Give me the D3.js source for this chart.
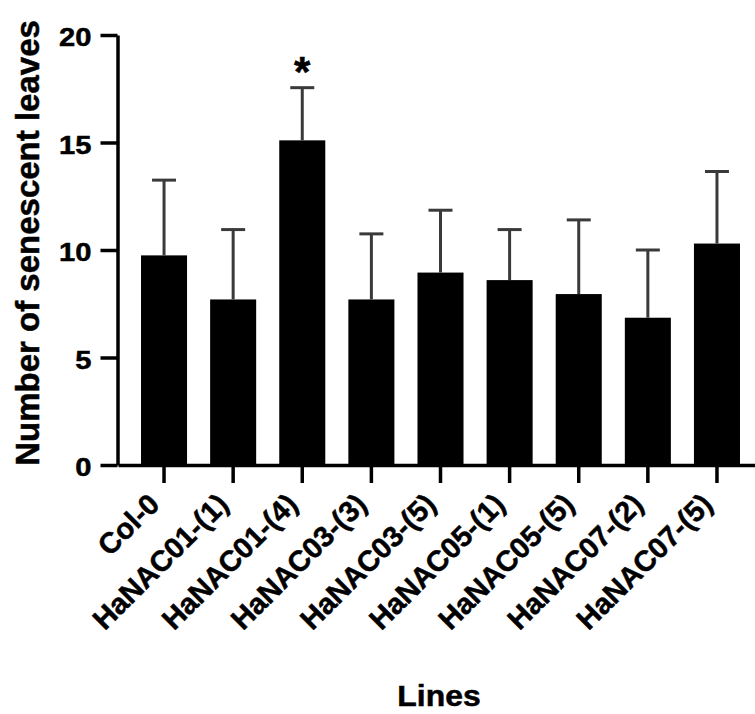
<!DOCTYPE html>
<html><head><meta charset="utf-8">
<script src="https://cdn.jsdelivr.net/npm/d3@7"></script>
<style>
body{margin:0;background:#fff}
svg{display:block}
text{font-family:"Liberation Sans",Arial,Helvetica,sans-serif;font-weight:bold;fill:#000;stroke:#000;stroke-width:0.5px}
</style>
</head><body><svg id="c" width="755" height="714"></svg>
<script>
const categories = ["Col-0","HaNAC01-(1)","HaNAC01-(4)","HaNAC03-(3)","HaNAC03-(5)","HaNAC05-(1)","HaNAC05-(5)","HaNAC07-(2)","HaNAC07-(5)"];
const means = [9.75, 7.7, 15.1, 7.7, 8.95, 8.6, 7.95, 6.85, 10.3];
const errors = [3.5, 3.25, 2.45, 3.05, 2.9, 2.35, 3.45, 3.15, 3.35];
const significance = ["", "", "*", "", "", "", "", "", ""];
const yTicks = [0, 5, 10, 15, 20];
const yTitle = "Number of senescent leaves";
const xTitle = "Lines";

const data = categories.map((c, i) => ({c, m: means[i], e: errors[i], s: significance[i]}));

const svg = d3.select("#c");
const x = d3.scaleBand().domain(categories).range([118, 763]).paddingInner(0.334).paddingOuter(0.333);
const y = d3.scaleLinear().domain([0, 20]).range([465, 35]);

// bars
svg.append("g").selectAll("rect").data(data).join("rect")
  .attr("x", d => x(d.c))
  .attr("y", d => y(d.m))
  .attr("width", x.bandwidth())
  .attr("height", d => y(0) - y(d.m))
  .attr("fill", "#000");

// error bars
const eb = svg.append("g").attr("stroke", "#3a3a3a").attr("stroke-width", 3);
eb.selectAll("line.v").data(data).join("line").attr("class", "v")
  .attr("x1", d => x(d.c) + x.bandwidth() / 2).attr("x2", d => x(d.c) + x.bandwidth() / 2)
  .attr("y1", d => y(d.m)).attr("y2", d => y(d.m + d.e));
eb.selectAll("line.h").data(data).join("line").attr("class", "h")
  .attr("x1", d => x(d.c) + x.bandwidth() / 2 - 12).attr("x2", d => x(d.c) + x.bandwidth() / 2 + 12)
  .attr("y1", d => y(d.m + d.e)).attr("y2", d => y(d.m + d.e));

// significance
svg.append("g").selectAll("text").data(data.filter(d => d.s)).join("text")
  .attr("x", d => x(d.c) + x.bandwidth() / 2)
  .attr("y", d => y(d.m + d.e) - 2)
  .attr("text-anchor", "middle")
  .attr("font-size", 42)
  .text(d => d.s);

// y axis
const ya = svg.append("g").attr("transform", "translate(117.5,0)")
  .call(d3.axisLeft(y).tickValues(yTicks).tickSize(17).tickSizeOuter(0));
ya.select(".domain").attr("stroke", "#000").attr("stroke-width", 3.5);
ya.selectAll(".tick line").attr("stroke", "#000").attr("stroke-width", 3.5);
ya.selectAll(".tick text")
  .attr("x", 0).attr("dy", "0.42em")
  .attr("font-size", 26)
  .attr("font-family", null)
  .attr("transform", "translate(-26,0) scale(1.12,1)");

// x axis
const xa = svg.append("g").attr("transform", "translate(0,465)")
  .call(d3.axisBottom(x).tickSize(18).tickSizeOuter(0));
xa.select(".domain").attr("stroke", "#000").attr("stroke-width", 3.5);
xa.selectAll(".tick line").attr("stroke", "#000").attr("stroke-width", 3.5);
xa.selectAll(".tick text")
  .attr("font-size", 29)
  .attr("font-family", null)
  .attr("text-anchor", "end")
  .attr("x", 0).attr("y", 0).attr("dy", 0)
  .attr("transform", "translate(-3,41) rotate(-45)");

// titles
svg.append("text")
  .attr("transform", "translate(39,243) rotate(-90)")
  .attr("text-anchor", "middle")
  .attr("font-size", 33)
  .text(yTitle);

svg.append("text")
  .attr("transform", "translate(439,706) scale(1.1,1)")
  .attr("text-anchor", "middle")
  .attr("font-size", 29)
  .text(xTitle);
</script>
</body></html>
